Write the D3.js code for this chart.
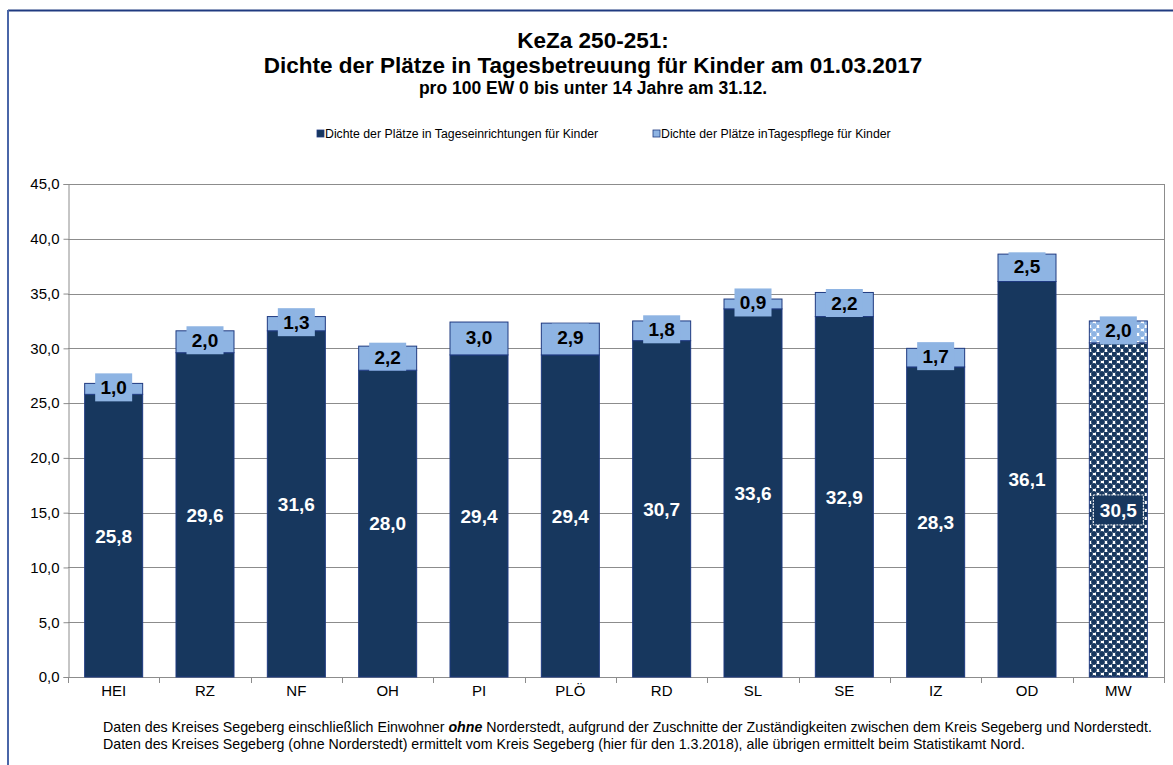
<!DOCTYPE html>
<html>
<head>
<meta charset="utf-8">
<script src="https://cdn.jsdelivr.net/npm/d3@7"></script>
<style>
  body { margin: 0; background: #fff; }
  svg, svg text { font-family: "Liberation Sans", Arial, Helvetica, sans-serif; }
</style>
</head>
<body>
<div id="chart"></div>
<script>
// Daten
const categories = ["HEI", "RZ", "NF", "OH", "PI", "PLÖ", "RD", "SL", "SE", "IZ", "OD", "MW"];
const einrichtungen = [25.8, 29.6, 31.6, 28.0, 29.4, 29.4, 30.7, 33.6, 32.9, 28.3, 36.1, 30.5];
const pflege = [1.0, 2.0, 1.3, 2.2, 3.0, 2.9, 1.8, 0.9, 2.2, 1.7, 2.5, 2.0];
const yTicks = [0, 5, 10, 15, 20, 25, 30, 35, 40, 45];
const seriesNames = ["Dichte der Plätze in Tageseinrichtungen für Kinder", "Dichte der Plätze inTagespflege für Kinder"];
const titleLines = ["KeZa 250-251:", "Dichte der Plätze in Tagesbetreuung für Kinder am 01.03.2017", "pro 100 EW 0 bis unter 14 Jahre am 31.12."];

const width = 1173, height = 765;
const margin = { left: 68, right: 1164, top: 184, bottom: 677 };
const darkBlue = "#17375e", lightBlue = "#8eb4e3", barStroke = "#1f3a80";
const fontFam = "Liberation Sans, Arial, sans-serif";
const fmt = v => v.toFixed(1).replace(".", ",");

const svg = d3.select("#chart").append("svg")
    .attr("width", width)
    .attr("height", height)
    .attr("font-family", fontFam);

// Muster für MW
const defs = svg.append("defs");
function dotPattern(id, dotColor) {
    const p = defs.append("pattern")
        .attr("id", id).attr("patternUnits", "userSpaceOnUse")
        .attr("width", 8).attr("height", 8);
    p.append("rect").attr("width", 8).attr("height", 8).attr("fill", "#ffffff");
    [[2, 2], [6, 6], [-2, 6], [10, 6], [6, -2], [6, 10]].forEach(([cx, cy]) => {
        p.append("circle").attr("cx", cx).attr("cy", cy).attr("r", 2.9).attr("fill", dotColor);
    });
}
dotPattern("dotsDark", darkBlue);
dotPattern("dotsLight", lightBlue);

// Rahmen
svg.append("line").attr("x1", 8).attr("x2", width).attr("y1", 10.5).attr("y2", 10.5)
    .attr("stroke", "#1f3a80").attr("stroke-width", 2);
svg.append("line").attr("x1", 8).attr("x2", 8).attr("y1", 10).attr("y2", height)
    .attr("stroke", "#4a66a8").attr("stroke-width", 2);

// Titel
const titleSizes = [22.5, 22.5, 17.5];
const titleY = [48, 73, 94];
titleLines.forEach((t, i) => {
    svg.append("text")
        .attr("x", 593).attr("y", titleY[i])
        .attr("text-anchor", "middle")
        .attr("font-size", titleSizes[i] + "px")
        .attr("font-weight", "bold")
        .attr("fill", "#000")
        .text(t);
});

// Legende
const legendX = [317, 653];
seriesNames.forEach((name, i) => {
    svg.append("rect")
        .attr("x", legendX[i]).attr("y", 130).attr("width", 7).attr("height", 7)
        .attr("fill", i === 0 ? darkBlue : lightBlue)
        .attr("stroke", barStroke).attr("stroke-width", 0.8);
    svg.append("text")
        .attr("x", legendX[i] + 8).attr("y", 138)
        .attr("font-size", "12.3px")
        .attr("fill", "#000")
        .text(name);
});

// Skalen
const x = d3.scaleBand()
    .domain(categories)
    .range([margin.left, margin.right])
    .paddingInner(0.365)
    .paddingOuter(0.1825);
const y = d3.scaleLinear()
    .domain([0, 45])
    .range([margin.bottom, margin.top]);

// Gitternetz
svg.append("g").selectAll("line")
    .data(yTicks.filter(d => d > 0))
    .enter().append("line")
    .attr("x1", margin.left).attr("x2", margin.right)
    .attr("y1", d => Math.round(y(d)) + 0.5).attr("y2", d => Math.round(y(d)) + 0.5)
    .attr("stroke", "#8c8c8c").attr("stroke-width", 1);
svg.append("line")
    .attr("x1", margin.right + 0.5).attr("x2", margin.right + 0.5)
    .attr("y1", margin.top).attr("y2", margin.bottom)
    .attr("stroke", "#8c8c8c");

// Y-Achse
const yAxis = svg.append("g")
    .attr("transform", `translate(${margin.left + 0.5},0)`)
    .call(d3.axisLeft(y).tickValues(yTicks).tickFormat(fmt).tickSizeOuter(0).tickSize(5).tickPadding(4));
yAxis.attr("font-family", fontFam);
yAxis.selectAll("line, path").attr("stroke", "#8c8c8c");
yAxis.selectAll("text").attr("font-size", "15px").attr("fill", "#000");

// X-Achse
const step = x.step();
svg.append("line")
    .attr("x1", margin.left).attr("x2", margin.right)
    .attr("y1", margin.bottom + 0.5).attr("y2", margin.bottom + 0.5)
    .attr("stroke", "#8c8c8c");
svg.append("g").selectAll("line")
    .data(d3.range(categories.length + 1))
    .enter().append("line")
    .attr("x1", i => Math.round(margin.left + i * step) + 0.5)
    .attr("x2", i => Math.round(margin.left + i * step) + 0.5)
    .attr("y1", margin.bottom).attr("y2", margin.bottom + 6)
    .attr("stroke", "#8c8c8c");
svg.append("g").selectAll("text")
    .data(categories)
    .enter().append("text")
    .attr("x", d => x(d) + x.bandwidth() / 2)
    .attr("y", margin.bottom + 19)
    .attr("text-anchor", "middle")
    .attr("font-size", "15px")
    .attr("fill", "#000")
    .text(d => d);

// Balken
const rows = categories.map((c, i) => ({ cat: c, a: einrichtungen[i], b: pflege[i], mw: c === "MW" }));

const bars = svg.append("g");
bars.selectAll("rect.a")
    .data(rows)
    .enter().append("rect")
    .attr("class", "a")
    .attr("x", d => x(d.cat))
    .attr("y", d => y(d.a))
    .attr("width", x.bandwidth())
    .attr("height", d => y(0) - y(d.a))
    .attr("fill", d => d.mw ? "url(#dotsDark)" : darkBlue)
    .attr("stroke", barStroke).attr("stroke-width", 1);
bars.selectAll("rect.b")
    .data(rows)
    .enter().append("rect")
    .attr("class", "b")
    .attr("x", d => x(d.cat))
    .attr("y", d => y(d.a + d.b))
    .attr("width", x.bandwidth())
    .attr("height", d => y(d.a) - y(d.a + d.b))
    .attr("fill", d => d.mw ? "url(#dotsLight)" : lightBlue)
    .attr("stroke", barStroke).attr("stroke-width", 1);

// Beschriftungen Tageseinrichtungen
const labA = svg.append("g").selectAll("g")
    .data(rows)
    .enter().append("g")
    .attr("transform", d => `translate(${x(d.cat) + x.bandwidth() / 2},${y(d.a / 2)})`);
labA.filter(d => d.mw).append("rect")
    .attr("x", -25).attr("y", -15).attr("width", 50).attr("height", 30)
    .attr("fill", darkBlue).attr("stroke", "#ffffff").attr("stroke-width", 1)
    .attr("stroke-dasharray", "2,1");
labA.append("text")
    .attr("text-anchor", "middle")
    .attr("dy", "0.36em")
    .attr("font-size", "19px")
    .attr("font-weight", "bold")
    .attr("fill", "#fff")
    .text(d => fmt(d.a));

// Beschriftungen Tagespflege
const labB = svg.append("g").selectAll("g")
    .data(rows)
    .enter().append("g")
    .attr("transform", d => `translate(${x(d.cat) + x.bandwidth() / 2},${y(d.a + d.b / 2) - 1.5})`);
labB.append("rect")
    .attr("x", -18.5).attr("y", -14).attr("width", 37).attr("height", 28)
    .attr("fill", lightBlue);
labB.append("text")
    .attr("text-anchor", "middle")
    .attr("dy", "0.36em")
    .attr("font-size", "19px")
    .attr("font-weight", "bold")
    .attr("fill", "#000")
    .text(d => fmt(d.b));

// Fußnote
const foot = svg.append("text")
    .attr("x", 103).attr("y", 732)
    .attr("font-size", "14.2px")
    .attr("fill", "#000");
foot.append("tspan").text("Daten des Kreises Segeberg einschließlich Einwohner ");
foot.append("tspan").attr("font-weight", "bold").attr("font-style", "italic").text("ohne");
foot.append("tspan").text(" Norderstedt, aufgrund der Zuschnitte der Zuständigkeiten zwischen dem Kreis Segeberg und Norderstedt.");
svg.append("text")
    .attr("x", 103).attr("y", 749)
    .attr("font-size", "14.2px")
    .attr("fill", "#000")
    .text("Daten des Kreises Segeberg (ohne Norderstedt) ermittelt vom Kreis Segeberg  (hier für den 1.3.2018), alle übrigen ermittelt beim Statistikamt Nord.");
</script>
</body>
</html>
